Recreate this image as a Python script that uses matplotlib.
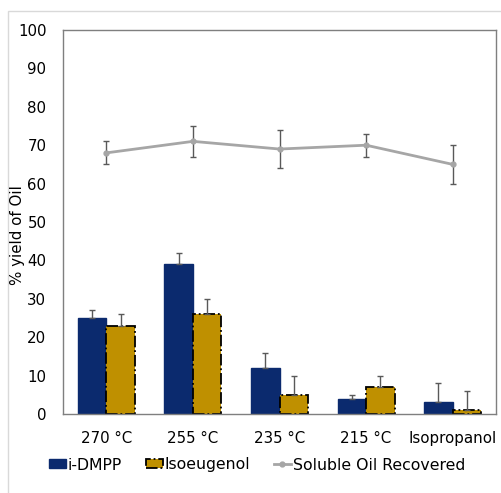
import matplotlib

matplotlib.use("Agg")

import matplotlib.pyplot as plt
import numpy as np
from matplotlib.patches import Rectangle

plt.rcParams["font.family"] = ["DejaVu Sans"]

categories = ["270 °C", "255 °C", "235 °C", "215 °C", "Isopropanol"]
dmpp = [25, 39, 12, 4, 3]
dmpp_err = [2, 3, 4, 1, 5]
isoeugenol = [23, 26, 5, 7, 1]
isoeugenol_err = [3, 4, 5, 3, 5]
soluble_oil = [68, 71, 69, 70, 65]
soluble_oil_err = [3, 4, 5, 3, 5]

NAVY = "#0b2a6e"
GOLD = "#bf9000"
LINE_GREY = "#a6a6a6"
ERR_GREY = "#595959"
FS = 10.8

fig = plt.figure(figsize=(5.01, 4.93), dpi=100)
ax = fig.add_axes([63 / 501, 1 - 414 / 493, 433 / 501, 384 / 493])

# faint border round the whole panel, like the pasted-in original
fig.patches.append(Rectangle((8 / 501, -0.01), 1.0, 1 - 11 / 493 + 0.01,
                             transform=fig.transFigure, fill=False,
                             edgecolor="#d9d9d9", linewidth=1.0))

x = np.arange(len(categories))
w = 0.33
zeros = np.zeros(len(categories))

b1 = ax.bar(x - w / 2, dmpp, w, color=NAVY, edgecolor=NAVY, label="i-DMPP",
            yerr=[zeros, dmpp_err], ecolor=ERR_GREY,
            error_kw=dict(capsize=2, elinewidth=1, capthick=1))
b2 = ax.bar(x + w / 2, isoeugenol, w, color=GOLD, edgecolor="black",
            linestyle="-.", linewidth=1.3, label="Isoeugenol",
            yerr=[zeros, isoeugenol_err], ecolor=ERR_GREY,
            error_kw=dict(capsize=2, elinewidth=1, capthick=1, linestyle="-"))
ax.errorbar(x, soluble_oil, yerr=soluble_oil_err, fmt="none", ecolor=ERR_GREY,
            elinewidth=1, capsize=2, capthick=1)
(ln,) = ax.plot(x, soluble_oil, color=LINE_GREY, linewidth=2, marker="o",
                markersize=3.5, label="Soluble Oil Recovered")

ax.set_xlim(-0.5, len(categories) - 0.5)
ax.set_ylim(0, 100)
ax.set_yticks(range(0, 101, 10))
ax.set_xticks(x)
ax.set_xticklabels(categories)
ax.tick_params(axis="both", length=0, labelsize=FS, colors="black")
ax.tick_params(axis="x", pad=12)
ax.tick_params(axis="y", pad=12)
for spine in ax.spines.values():
    spine.set_color("#7f7f7f")
    spine.set_linewidth(1.0)

fig.text(18 / 501, 1 - 235 / 493, "% yield of Oil", rotation=90,
         ha="center", va="center", fontsize=FS)

fig.legend(handles=[b1, b2, ln], loc="center",
           bbox_to_anchor=(257 / 501, 1 - 465 / 493), ncol=3,
           frameon=False, fontsize=11.3, handlelength=1.1, handleheight=0.5,
           handletextpad=0.1, columnspacing=1.5)

fig.savefig("out.png", dpi=100, facecolor="white")
